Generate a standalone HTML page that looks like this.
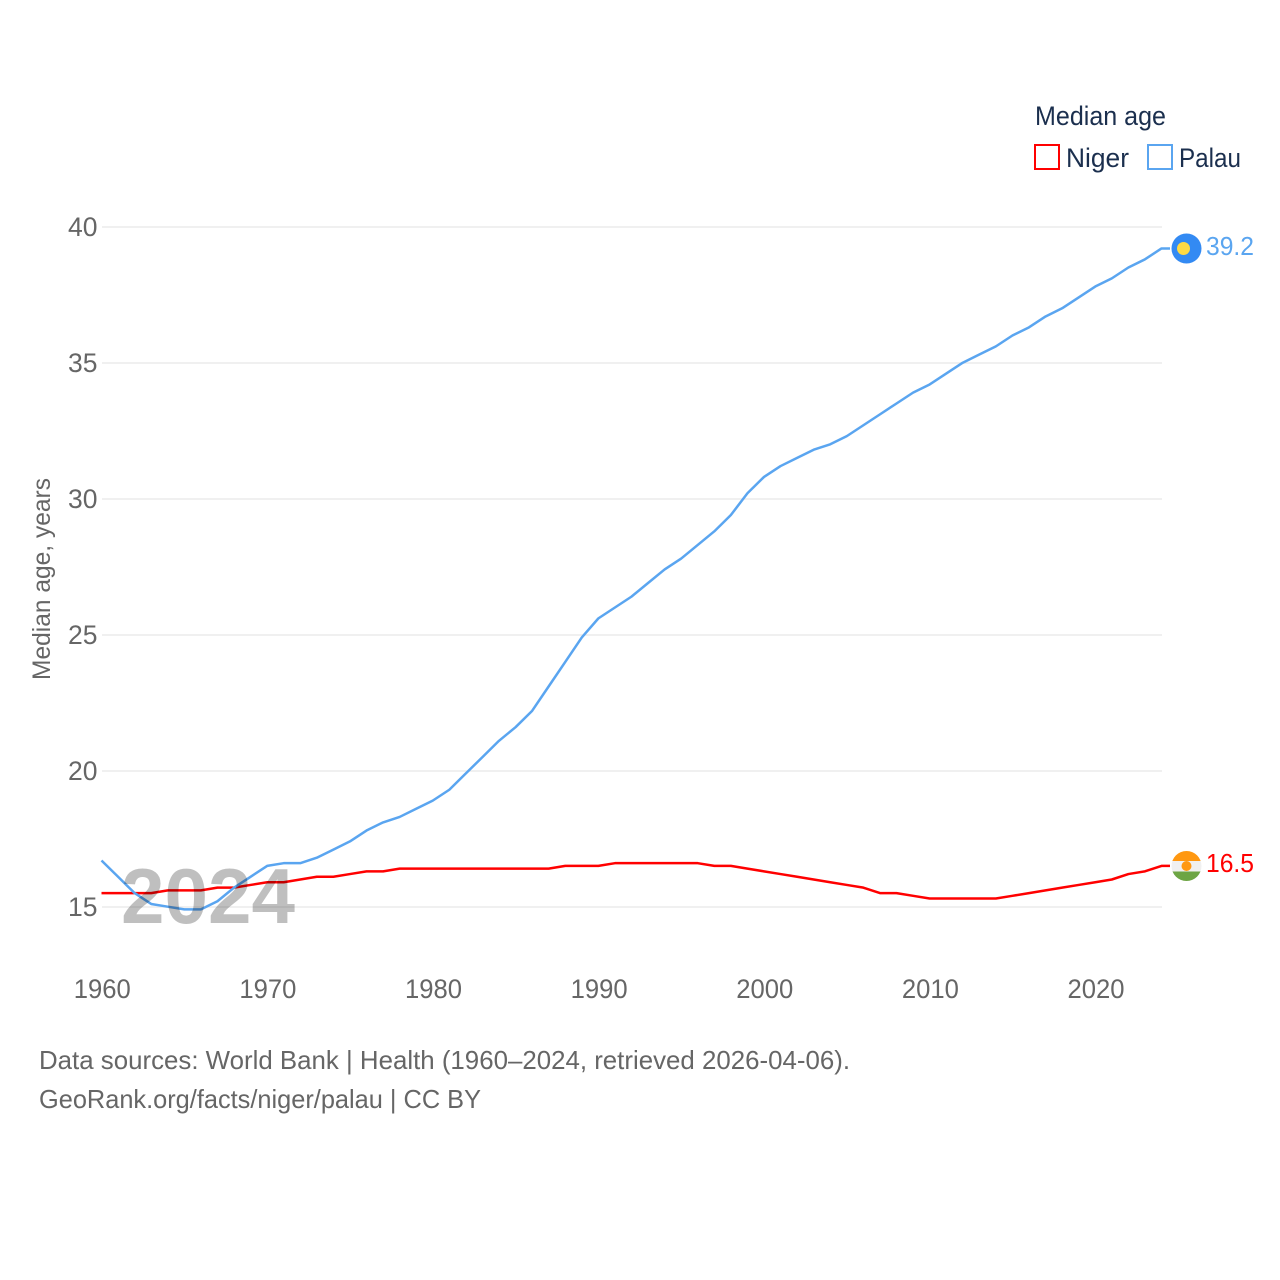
<!DOCTYPE html>
<html lang="en">
<head>
<meta charset="utf-8">
<title>Median age: Niger and Palau</title>
<style>
html,body{margin:0;padding:0;background:#fff;}
svg{display:block;font-family:"Liberation Sans",sans-serif;}
text{font-family:"Liberation Sans",sans-serif;}
</style>
</head>
<body>
<svg id="chart" xmlns="http://www.w3.org/2000/svg" width="1280" height="1280" viewBox="0 0 1280 1280">
  <g id="grid"></g>
  <g id="yticks"></g>
  <g id="xticks"></g>
  <text transform="translate(50,579) rotate(-90)" text-anchor="middle" font-size="25" fill="#666" textLength="202" lengthAdjust="spacingAndGlyphs">Median age, years</text>
  <g id="series"></g>
  <text x="121" y="923" font-size="78" font-weight="700" fill="#000" fill-opacity="0.25" textLength="174" lengthAdjust="spacingAndGlyphs">2024</text>

  <g>
    <circle cx="1186.5" cy="248.5" r="15" fill="#338af3"/>
    <circle cx="1183.5" cy="248.5" r="6.5" fill="#ffda44"/>
  </g>
  <g>
    <clipPath id="nigerClip"><circle cx="1186.5" cy="866" r="15"/></clipPath>
    <g clip-path="url(#nigerClip)">
      <rect x="1171" y="851" width="31" height="10" fill="#ff9811"/>
      <rect x="1171" y="861" width="31" height="10.5" fill="#f0f0f0"/>
      <rect x="1171" y="871.5" width="31" height="10" fill="#6da544"/>
    </g>
    <circle cx="1186.5" cy="866" r="5" fill="#ff9811"/>
  </g>
  <text id="palauValue" x="1206" y="255" font-size="26" fill="#5aa5f0" textLength="48" lengthAdjust="spacingAndGlyphs"></text>
  <text id="nigerValue" x="1206" y="872" font-size="26" fill="#ff0000" textLength="48" lengthAdjust="spacingAndGlyphs"></text>

  <g>
    <text x="1035" y="125" font-size="26.5" fill="#1b2f4e" textLength="131" lengthAdjust="spacingAndGlyphs">Median age</text>
    <rect x="1035" y="145" width="24" height="24" fill="none" stroke="#ff0000" stroke-width="2"/>
    <text x="1066" y="167" font-size="26.5" fill="#1b2f4e" textLength="63" lengthAdjust="spacingAndGlyphs">Niger</text>
    <rect x="1148" y="145" width="24" height="24" fill="none" stroke="#5aa5f0" stroke-width="2"/>
    <text x="1179" y="167" font-size="26.5" fill="#1b2f4e" textLength="62" lengthAdjust="spacingAndGlyphs">Palau</text>
  </g>

  <g>
    <text x="39" y="1069" font-size="26" fill="#666" textLength="811" lengthAdjust="spacingAndGlyphs">Data sources: World Bank | Health (1960–2024, retrieved 2026-04-06).</text>
    <a><text x="39" y="1108" font-size="26" fill="#666" textLength="442" lengthAdjust="spacingAndGlyphs">GeoRank.org/facts/niger/palau | CC BY</text></a>
  </g>
</svg>
<script>
const startYear = 1960;
const yTickValues = [15, 20, 25, 30, 35, 40];
const xTickValues = [1960, 1970, 1980, 1990, 2000, 2010, 2020];
const nigerValues = [15.5,15.5,15.5,15.5,15.6,15.6,15.6,15.7,15.7,15.8,15.9,15.9,16.0,16.1,16.1,16.2,16.3,16.3,16.4,16.4,16.4,16.4,16.4,16.4,16.4,16.4,16.4,16.4,16.5,16.5,16.5,16.6,16.6,16.6,16.6,16.6,16.6,16.5,16.5,16.4,16.3,16.2,16.1,16.0,15.9,15.8,15.7,15.5,15.5,15.4,15.3,15.3,15.3,15.3,15.3,15.4,15.5,15.6,15.7,15.8,15.9,16.0,16.2,16.3,16.5];
const palauValues = [16.7,16.1,15.5,15.1,15.0,14.9,14.9,15.2,15.7,16.1,16.5,16.6,16.6,16.8,17.1,17.4,17.8,18.1,18.3,18.6,18.9,19.3,19.9,20.5,21.1,21.6,22.2,23.1,24.0,24.9,25.6,26.0,26.4,26.9,27.4,27.8,28.3,28.8,29.4,30.2,30.8,31.2,31.5,31.8,32.0,32.3,32.7,33.1,33.5,33.9,34.2,34.6,35.0,35.3,35.6,36.0,36.3,36.7,37.0,37.4,37.8,38.1,38.5,38.8,39.2];

const NS = 'http://www.w3.org/2000/svg';
function xScale(year) { return 101.5 + (year - 1960) * (1161.5 - 101.5) / 64; }
function yScale(value) { return 906.7 - (value - 15) * (906.7 - 226.7) / 25; }

const grid = document.getElementById('grid');
const yticks = document.getElementById('yticks');
const xticks = document.getElementById('xticks');
const series = document.getElementById('series');

yTickValues.forEach(function (v) {
  const line = document.createElementNS(NS, 'line');
  
  
  line.setAttribute('x1', 102);
  line.setAttribute('x2', 1162);
  line.setAttribute('y1', yScale(v) + 0.3);
  line.setAttribute('y2', yScale(v) + 0.3);
  line.setAttribute('stroke', '#ececec');
  line.setAttribute('stroke-width', 1.6);
  grid.appendChild(line);

  const t = document.createElementNS(NS, 'text');
  
  
  t.setAttribute('x', 97.5);
  t.setAttribute('y', yScale(v) + 9.5);
  t.setAttribute('text-anchor', 'end');
  t.setAttribute('font-size', '26.5');
  t.setAttribute('fill', '#666');
  t.textContent = v;
  yticks.appendChild(t);
});

xTickValues.forEach(function (v) {
  const t = document.createElementNS(NS, 'text');
  
  
  t.setAttribute('x', xScale(v) + 0.8);
  t.setAttribute('y', 998);
  t.setAttribute('text-anchor', 'middle');
  t.setAttribute('font-size', '26.5');
  t.setAttribute('fill', '#666');
  t.setAttribute('textLength', '57');
  t.setAttribute('lengthAdjust', 'spacingAndGlyphs');
  t.textContent = v;
  xticks.appendChild(t);
});

function drawSeries(values, color, name) {
  let pts = values.map(function (v, i) {
    return xScale(startYear + i).toFixed(2) + ',' + yScale(v).toFixed(2);
  });
  const last = values[values.length - 1];
  pts.push('1170,' + yScale(last).toFixed(2));
  const line = document.createElementNS(NS, 'polyline');
  
  
  line.setAttribute('points', pts.join(' '));
  line.setAttribute('fill', 'none');
  line.setAttribute('stroke', color);
  line.setAttribute('stroke-width', 2.5);
  line.setAttribute('stroke-linejoin', 'round');
  series.appendChild(line);
}
drawSeries(nigerValues, '#ff0000', 'niger-line');
drawSeries(palauValues, '#5aa5f0', 'palau-line');

document.getElementById('palauValue').textContent = palauValues[palauValues.length - 1].toFixed(1);
document.getElementById('nigerValue').textContent = nigerValues[nigerValues.length - 1].toFixed(1);
</script>
</body>
</html>
